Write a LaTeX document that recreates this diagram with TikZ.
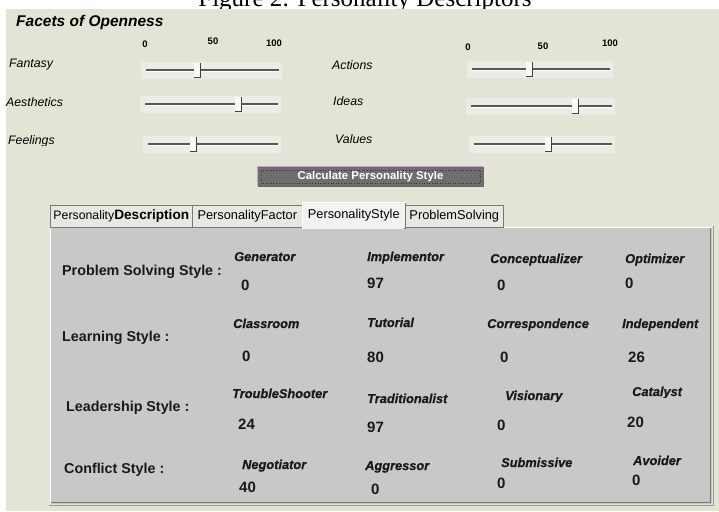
\documentclass[tikz,border=0pt]{standalone}
\usepackage{fontspec}
\setmainfont{Liberation Sans}
\newfontfamily\capfont{Liberation Serif}
\newfontfamily\hvit{Liberation Sans}[BoldItalicFeatures={FakeBold=0.6}]
\definecolor{bgc}{RGB}{228,228,214}
\definecolor{panelc}{RGB}{200,200,200}
\definecolor{trackbg}{RGB}{236,236,230}
\definecolor{trackc}{RGB}{88,88,88}
\definecolor{btnc}{RGB}{110,110,110}
\definecolor{tabc}{RGB}{232,232,226}
\definecolor{seltabc}{RGB}{242,242,240}
\definecolor{darkedge}{RGB}{120,120,120}
\definecolor{pinkedge}{RGB}{200,160,200}
\newcommand\mySlider[4]{%
  \fill[trackbg] (#1-5,#3-8) rectangle (#2+3,#3+9);
  \draw[trackc, line width=1.6pt] (#1,#3) -- (#2,#3);
  \draw[white, line width=0.6pt] (#1,#3+1.6) -- (#2,#3+1.6);
  \fill[white!95!gray] (#4-3.5,#3-7) rectangle (#4+3.5,#3+7);
  \draw[black!75, line width=0.9pt] (#4+3.5,#3-7) -- (#4+3.5,#3+7) -- (#4-3.5,#3+7);
}
\begin{document}
\begin{tikzpicture}[x=1pt,y=-1pt,
  capt/.style={font=\capfont\fontsize{25}{28}\selectfont, anchor=base, inner sep=0},
  ttl/.style={font=\fontsize{15.5}{18}\selectfont\bfseries\itshape, anchor=base west, inner sep=0},
  scl/.style={font=\fontsize{9.5}{10}\selectfont\bfseries, anchor=base, inner sep=0},
  sll/.style={font=\fontsize{12.3}{14}\selectfont\itshape, anchor=base west, inner sep=0},
  lbl/.style={font=\fontsize{14.3}{16}\selectfont\bfseries, anchor=base west, inner sep=0, text=black!90},
  hdr/.style={font=\hvit\fontsize{12.8}{15}\selectfont\bfseries\itshape, anchor=base west, inner sep=0, text=black!90},
  val/.style={font=\fontsize{15}{17}\selectfont\bfseries, anchor=base west, inner sep=0, text=black!90},
  tabbox/.style={draw=darkedge, line width=0.6pt, fill=tabc, anchor=north west, inner sep=0,
     font=\fontsize{12.8}{15}\selectfont, minimum height=22},
]
\useasboundingbox (0,0) rectangle (719,511);
\clip (0,0) rectangle (719,511);
\fill[white] (0,0) rectangle (719,511);
\node[capt] (cap) at (365,7) {Figure 2: Personality Descriptors};
\fill[bgc] (6,9) rectangle (719,511);

% title
\node[ttl] (title) at (16,27) {Facets of Openness};

% scales
\node[scl] (l0) at (145,48) {0};
\node[scl] (l50) at (213,45) {50};
\node[scl] (l100) at (274,46) {100};
\node[scl] (r0) at (468,50) {0};
\node[scl] (r50) at (543,49) {50};
\node[scl] (r100) at (610,47) {100};

% slider labels
\node[sll] (fantasy) at (9,67.5) {Fantasy};
\node[sll] (aesth) at (6,106) {Aesthetics};
\begin{scope}
\clip (0,120) rectangle (120,145.5);
\node[sll] (feel) at (8,144) {Feelings};
\end{scope}
\node[sll] (actions) at (332,69) {Actions};
\node[sll] (ideas) at (333,105) {Ideas};
\node[sll] (values) at (335,143) {Values};

% sliders
\mySlider{146}{279}{70}{197}
\mySlider{145}{278}{104}{238}
\mySlider{148}{278}{144}{193}
\mySlider{472}{610}{69}{529}
\mySlider{471}{612}{106}{575}
\mySlider{474}{612}{144}{548}

% button
\node[fill=btnc, minimum width=225, minimum height=19, inner sep=0, text=white,
      font=\fontsize{11.4}{13}\selectfont\bfseries] (calc) at (370.5,176.5) {Calculate Personality Style};
\draw[pinkedge, line width=1pt] (calc.south west) -- (calc.north west) -- (calc.north east);
\draw[black!60, line width=1pt] (calc.north east) -- (calc.south east) -- (calc.south west);
\draw[black!80, dotted, line width=0.6pt] ([shift={(3,3)}]calc.north west) rectangle ([shift={(-3,-3)}]calc.south east);

% panel
\fill[panelc] (50,227) rectangle (712,504);
\draw[white, line width=1pt] (50.5,504) -- (50.5,227.5) -- (712,227.5);
\draw[darkedge, line width=1pt] (710.5,228) -- (710.5,502.5) -- (51,502.5);
\draw[black!40, line width=1pt] (713,226) -- (713,505) -- (49,505);

% tabs
\node[tabbox, minimum width=142] (t1) at (50,205) {\fontsize{12.3}{14}\selectfont Personality\fontsize{13.6}{15}\selectfont\bfseries Description};
\node[tabbox, minimum width=110] (t2) at (192,205) {PersonalityFactor};
\node[tabbox, minimum width=98] (t4) at (405,205) {ProblemSolving};
\node[tabbox, fill=seltabc, minimum width=103, minimum height=26] (t3) at (302,202) {PersonalityStyle};
\fill[seltabc] (302.6,226) rectangle (404.4,229);
\draw[white, line width=1pt] (t3.south west) -- (t3.north west) -- (t3.north east);

% row labels
\node[lbl] (ps) at (62,275) {Problem Solving Style :};
\node[lbl] (ls) at (62,341) {Learning Style :};
\node[lbl] (ld) at (66,411) {Leadership Style :};
\node[lbl] (cs) at (64,473) {Conflict Style :};

% headers
\node[hdr] (h11) at (234,261) {Generator};
\node[hdr] (h12) at (367,261) {Implementor};
\node[hdr] (h13) at (490,263) {Conceptualizer};
\node[hdr] (h14) at (625,263) {Optimizer};
\node[hdr] (h21) at (233,328) {Classroom};
\node[hdr] (h22) at (367,327) {Tutorial};
\node[hdr] (h23) at (487,328) {Correspondence};
\node[hdr] (h24) at (622,328) {Independent};
\node[hdr] (h31) at (232,398) {TroubleShooter};
\node[hdr] (h32) at (367,403) {Traditionalist};
\begin{scope}
\clip (480,380) rectangle (600,401.5);
\node[hdr] (h33) at (505,400) {Visionary};
\end{scope}
\begin{scope}
\clip (610,375) rectangle (705,397.5);
\node[hdr] (h34) at (632,396) {Catalyst};
\end{scope}
\node[hdr] (h41) at (242,469) {Negotiator};
\node[hdr] (h42) at (365,470) {Aggressor};
\node[hdr] (h43) at (501,467) {Submissive};
\node[hdr] (h44) at (633,465) {Avoider};

% values
\node[val] (v11) at (241,290) {0};
\node[val] (v12) at (367,288) {97};
\node[val] (v13) at (497,290) {0};
\node[val] (v14) at (625,288) {0};
\node[val] (v21) at (242,361) {0};
\node[val] (v22) at (367,362) {80};
\node[val] (v23) at (500,362) {0};
\node[val] (v24) at (628,362) {26};
\node[val] (v31) at (238,429) {24};
\node[val] (v32) at (367,432) {97};
\node[val] (v33) at (497,430) {0};
\node[val] (v34) at (627,427) {20};
\node[val] (v41) at (239,492) {40};
\node[val] (v42) at (371,494) {0};
\node[val] (v43) at (497,488) {0};
\node[val] (v44) at (632,485) {0};
\end{tikzpicture}
\end{document}
